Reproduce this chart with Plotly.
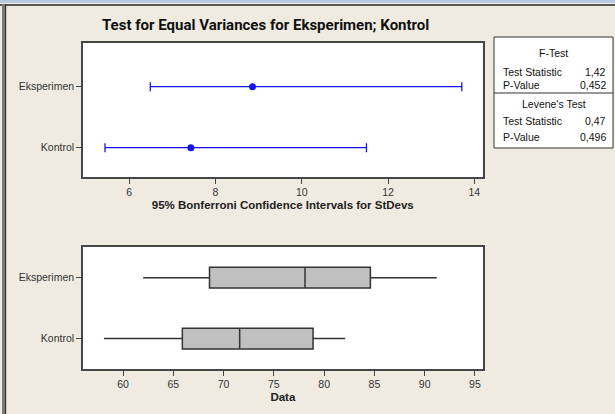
import plotly.graph_objects as go

W, H = 615, 414

# --- data -------------------------------------------------------------
groups = ["Eksperimen", "Kontrol"]
sd_point = [8.86, 7.43]
sd_lower = [6.49, 5.44]
sd_upper = [13.71, 11.50]

box_low = [62.0, 58.1]
box_q1 = [68.6, 65.9]
box_median = [78.1, 71.6]
box_q3 = [84.6, 78.9]
box_high = [91.2, 82.1]

f_stat, f_p = "1,42", "0,452"
lev_stat, lev_p = "0,47", "0,496"

BG = "#EFEBE1"
AX = "#464646"
BLUE = "#1414F0"
FONT = "Liberation Sans"


def px(x):
    return x / W


def py(y):
    return 1 - y / H


fig = go.Figure()

# confidence intervals for StDevs
fig.add_trace(
    go.Scatter(
        x=sd_point,
        y=groups,
        mode="markers",
        marker=dict(color=BLUE, size=7),
        error_x=dict(
            type="data",
            symmetric=False,
            array=[u - p for u, p in zip(sd_upper, sd_point)],
            arrayminus=[p - l for p, l in zip(sd_point, sd_lower)],
            color=BLUE,
            thickness=1.3,
            width=4.5,
        ),
        xaxis="x",
        yaxis="y",
        showlegend=False,
        hoverinfo="skip",
    )
)

# boxplots
fig.add_trace(
    go.Box(
        y=groups,
        q1=box_q1,
        median=box_median,
        q3=box_q3,
        lowerfence=box_low,
        upperfence=box_high,
        orientation="h",
        fillcolor="#C0C0C0",
        line=dict(color="#333333", width=1.5),
        whiskerwidth=0,
        width=0.34,
        boxpoints=False,
        xaxis="x2",
        yaxis="y2",
        showlegend=False,
    )
)

axis_common = dict(
    showline=True,
    linecolor=AX,
    linewidth=1.6,
    mirror=True,
    ticks="outside",
    ticklen=5,
    tickcolor=AX,
    tickwidth=1,
    showgrid=False,
    zeroline=False,
    tickfont=dict(family=FONT, size=10.5, color="#333333"),
)

fig.update_layout(
    width=W,
    height=H,
    margin=dict(l=0, r=0, t=0, b=0),
    paper_bgcolor=BG,
    plot_bgcolor="white",
    xaxis=dict(
        axis_common,
        domain=[px(83), px(482.5)],
        range=[4.93, 14.19],
        tick0=0,
        dtick=2,
        anchor="y",
        title=dict(
            text="<b>95% Bonferroni Confidence Intervals for StDevs</b>",
            font=dict(family=FONT, size=11.5, color="#222222"),
            standoff=4,
        ),
    ),
    yaxis=dict(
        axis_common,
        domain=[py(177), py(43)],
        type="category",
        categoryorder="array",
        categoryarray=["Kontrol", "Eksperimen"],
        range=[-0.48, 1.716],
        anchor="x",
    ),
    xaxis2=dict(
        axis_common,
        domain=[px(83), px(482.7)],
        range=[56.02, 95.77],
        tick0=0,
        dtick=5,
        anchor="y2",
        title=dict(
            text="<b>Data</b>",
            font=dict(family=FONT, size=11.5, color="#222222"),
            standoff=4,
        ),
    ),
    yaxis2=dict(
        axis_common,
        domain=[py(369), py(246.7)],
        type="category",
        categoryorder="array",
        categoryarray=["Kontrol", "Eksperimen"],
        range=[-0.5, 1.508],
        anchor="x2",
    ),
)

# title
fig.add_annotation(
    x=px(265), y=py(25), xref="paper", yref="paper",
    text="<b>Test for Equal Variances for Eksperimen; Kontrol</b>",
    showarrow=False, xanchor="center", yanchor="middle",
    font=dict(family="Roboto", size=15, color="#111111"),
)

# window frame
fig.add_shape(type="rect", xref="paper", yref="paper",
              x0=0, x1=1, y0=py(3), y1=1, line_width=0, fillcolor="#B7C9DF")
fig.add_shape(type="rect", xref="paper", yref="paper",
              x0=0, x1=1, y0=py(6), y1=py(4), line_width=0, fillcolor="#555555")
fig.add_shape(type="rect", xref="paper", yref="paper",
              x0=px(2), x1=px(5), y0=0, y1=py(4), line_width=0, fillcolor="#7A7A7A")
fig.add_shape(type="rect", xref="paper", yref="paper",
              x0=px(5), x1=px(6.2), y0=0, y1=py(4), line_width=0, fillcolor="#333333")

# statistics box
fig.add_shape(type="rect", xref="paper", yref="paper",
              x0=px(494), x1=px(613), y0=py(148), y1=py(37),
              line=dict(color="#333333", width=1), fillcolor="white")
fig.add_shape(type="line", xref="paper", yref="paper",
              x0=px(494), x1=px(613), y0=py(93), y1=py(93),
              line=dict(color="#333333", width=1))

stat_font = dict(family=FONT, size=10.5, color="#111111")
for label, ypos in [("F-Test", 53), ("Levene's Test", 104)]:
    fig.add_annotation(x=px(553.5), y=py(ypos), xref="paper", yref="paper",
                       text=label, showarrow=False, font=stat_font,
                       xanchor="center", yanchor="middle")
for label, value, ypos in [
    ("Test Statistic", f_stat, 71.5),
    ("P-Value", f_p, 85),
    ("Test Statistic", lev_stat, 121),
    ("P-Value", lev_p, 137),
]:
    fig.add_annotation(x=px(501), y=py(ypos), xref="paper", yref="paper",
                       text=label, showarrow=False, font=stat_font,
                       xanchor="left", yanchor="middle")
    fig.add_annotation(x=px(608), y=py(ypos), xref="paper", yref="paper",
                       text=value, showarrow=False, font=stat_font,
                       xanchor="right", yanchor="middle")

fig.write_html("out.html", config={"displayModeBar": False},
               post_script="document.body.style.margin='0';")
